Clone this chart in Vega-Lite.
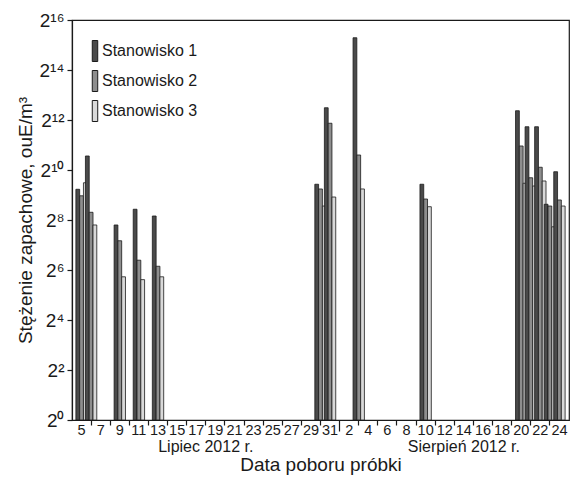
{
  "$schema": "https://vega.github.io/schema/vega-lite/v6.json",
  "width": 497,
  "height": 400,
  "autosize": {"type": "none"},
  "padding": {"left": 72, "top": 20, "right": 2, "bottom": 57},
  "background": "white",
  "config": {
    "font": "Liberation Sans",
    "view": {"stroke": "#1a1a1a", "strokeWidth": 1.2},
    "axis": {
      "grid": false,
      "domainColor": "#1a1a1a",
      "domainWidth": 1.2,
      "tickColor": "#1a1a1a",
      "labelColor": "#1a1a1a",
      "titleColor": "#1a1a1a",
      "labelFont": "Liberation Sans",
      "titleFont": "Liberation Sans",
      "titleFontWeight": "normal"
    }
  },
  "layer": [
    {
      "data": {
        "values": [
          {"date": "2012-07-05", "station": "Stanowisko 1", "value": 600},
          {"date": "2012-07-05", "station": "Stanowisko 2", "value": 501},
          {"date": "2012-07-05", "station": "Stanowisko 3", "value": 719},
          {"date": "2012-07-06", "station": "Stanowisko 1", "value": 1510},
          {"date": "2012-07-06", "station": "Stanowisko 2", "value": 317},
          {"date": "2012-07-06", "station": "Stanowisko 3", "value": 223},
          {"date": "2012-07-09", "station": "Stanowisko 1", "value": 223},
          {"date": "2012-07-09", "station": "Stanowisko 2", "value": 144},
          {"date": "2012-07-09", "station": "Stanowisko 3", "value": 53},
          {"date": "2012-07-11", "station": "Stanowisko 1", "value": 345},
          {"date": "2012-07-11", "station": "Stanowisko 2", "value": 84},
          {"date": "2012-07-11", "station": "Stanowisko 3", "value": 49},
          {"date": "2012-07-13", "station": "Stanowisko 1", "value": 286},
          {"date": "2012-07-13", "station": "Stanowisko 2", "value": 71},
          {"date": "2012-07-13", "station": "Stanowisko 3", "value": 53},
          {"date": "2012-07-30", "station": "Stanowisko 1", "value": 690},
          {"date": "2012-07-30", "station": "Stanowisko 2", "value": 605},
          {"date": "2012-07-30", "station": "Stanowisko 3", "value": 377},
          {"date": "2012-07-31", "station": "Stanowisko 1", "value": 5752},
          {"date": "2012-07-31", "station": "Stanowisko 2", "value": 3743},
          {"date": "2012-07-31", "station": "Stanowisko 3", "value": 484},
          {"date": "2012-08-03", "station": "Stanowisko 1", "value": 40061},
          {"date": "2012-08-03", "station": "Stanowisko 2", "value": 1552},
          {"date": "2012-08-03", "station": "Stanowisko 3", "value": 605},
          {"date": "2012-08-10", "station": "Stanowisko 1", "value": 690},
          {"date": "2012-08-10", "station": "Stanowisko 2", "value": 458},
          {"date": "2012-08-10", "station": "Stanowisko 3", "value": 370},
          {"date": "2012-08-20", "station": "Stanowisko 1", "value": 5294},
          {"date": "2012-08-20", "station": "Stanowisko 2", "value": 1992},
          {"date": "2012-08-20", "station": "Stanowisko 3", "value": 709},
          {"date": "2012-08-21", "station": "Stanowisko 1", "value": 3397},
          {"date": "2012-08-21", "station": "Stanowisko 2", "value": 826},
          {"date": "2012-08-21", "station": "Stanowisko 3", "value": 657},
          {"date": "2012-08-22", "station": "Stanowisko 1", "value": 3397},
          {"date": "2012-08-22", "station": "Stanowisko 2", "value": 1105},
          {"date": "2012-08-22", "station": "Stanowisko 3", "value": 755},
          {"date": "2012-08-23", "station": "Stanowisko 1", "value": 396},
          {"date": "2012-08-23", "station": "Stanowisko 2", "value": 377},
          {"date": "2012-08-23", "station": "Stanowisko 3", "value": 212},
          {"date": "2012-08-24", "station": "Stanowisko 1", "value": 976},
          {"date": "2012-08-24", "station": "Stanowisko 2", "value": 446},
          {"date": "2012-08-24", "station": "Stanowisko 3", "value": 377}
        ]
      },
      "mark": {"type": "bar", "stroke": "#1a1a1a", "strokeWidth": 0.8},
      "encoding": {
        "x": {
          "field": "date",
          "type": "ordinal",
          "scale": {
            "domain": ["2012-07-05","2012-07-06","2012-07-07","2012-07-08","2012-07-09","2012-07-10","2012-07-11","2012-07-12","2012-07-13","2012-07-14","2012-07-15","2012-07-16","2012-07-17","2012-07-18","2012-07-19","2012-07-20","2012-07-21","2012-07-22","2012-07-23","2012-07-24","2012-07-25","2012-07-26","2012-07-27","2012-07-28","2012-07-29","2012-07-30","2012-07-31","2012-08-01","2012-08-02","2012-08-03","2012-08-04","2012-08-05","2012-08-06","2012-08-07","2012-08-08","2012-08-09","2012-08-10","2012-08-11","2012-08-12","2012-08-13","2012-08-14","2012-08-15","2012-08-16","2012-08-17","2012-08-18","2012-08-19","2012-08-20","2012-08-21","2012-08-22","2012-08-23","2012-08-24"],
            "paddingInner": 0,
            "paddingOuter": 0.5
          },
          "axis": {
            "title": "Data poboru próbki",
            "titleFontSize": 19,
            "titlePadding": 13,
            "labelAngle": 0,
            "labelFontSize": 14.5,
            "labelPadding": -2,
            "tickWidth": 1.2,
            "labelExpr": "((slice(datum.value,5,7)=='07' && toNumber(slice(datum.value,8))%2==1) || (slice(datum.value,5,7)=='08' && toNumber(slice(datum.value,8))%2==0)) ? '' + toNumber(slice(datum.value,8)) : ''",
            "tickOpacity": {
              "condition": {"test": "(slice(datum.value,5,7)=='07' && toNumber(slice(datum.value,8))%2==1) || (slice(datum.value,5,7)=='08' && toNumber(slice(datum.value,8))%2==0)", "value": 0},
              "value": 1
            },
            "tickSize": {
              "condition": {"test": "datum.value == '2012-08-01'", "value": 11},
              "value": 5
            }
          }
        },
        "xOffset": {
          "field": "station",
          "type": "nominal",
          "scale": {"domain": ["Stanowisko 1", "Stanowisko 2", "Stanowisko 3"], "range": [-0.9, 10.46]}
        },
        "y": {
          "field": "value",
          "type": "quantitative",
          "scale": {"type": "log", "base": 2, "domain": [1, 65536], "nice": false},
          "axis": {
            "title": "Stężenie zapachowe, ouE/m³",
            "titleFontSize": 19,
            "titlePadding": 3,
            "values": [1, 4, 16, 64, 256, 1024, 4096, 16384, 65536],
            "labelExpr": "'2' + ['⁰','','²','','⁴','','⁶','','⁸','','¹⁰','','¹²','','¹⁴','','¹⁶'][round(log(datum.value)/LN2)]",
            "labelFontSize": 19,
            "labelPadding": 3,
            "tickSize": 5,
            "tickWidth": 1.2
          }
        },
        "y2": {"datum": 1},
        "fill": {
          "field": "station",
          "type": "nominal",
          "scale": {"domain": ["Stanowisko 1", "Stanowisko 2", "Stanowisko 3"], "range": ["#4a4a4a", "#8e8e8e", "#d9d9d9"]},
          "legend": {
            "title": null,
            "orient": "none",
            "legendX": 12,
            "legendY": 20,
            "direction": "vertical",
            "symbolType": "M-0.26,-1H0.26V1H-0.26Z",
            "symbolSize": 441,
            "symbolStrokeColor": "#1a1a1a",
            "symbolStrokeWidth": 1,
            "symbolOpacity": 1,
            "labelFontSize": 16,
            "labelColor": "#1a1a1a",
            "labelFont": "Liberation Sans",
            "labelOffset": -4,
            "rowPadding": 4,
            "padding": 0
          }
        }
      }
    },
    {
      "data": {
        "values": [
          {"date": "2012-07-18", "label": "Lipiec 2012 r."},
          {"date": "2012-08-14", "label": "Sierpień 2012 r."}
        ]
      },
      "mark": {"type": "text", "fontSize": 16, "baseline": "middle", "align": "center", "dy": 26.5, "font": "Liberation Sans", "color": "#1a1a1a"},
      "encoding": {
        "x": {"field": "date", "type": "ordinal"},
        "y": {"datum": 1, "type": "quantitative"},
        "text": {"field": "label", "type": "nominal"}
      }
    }
  ]
}
